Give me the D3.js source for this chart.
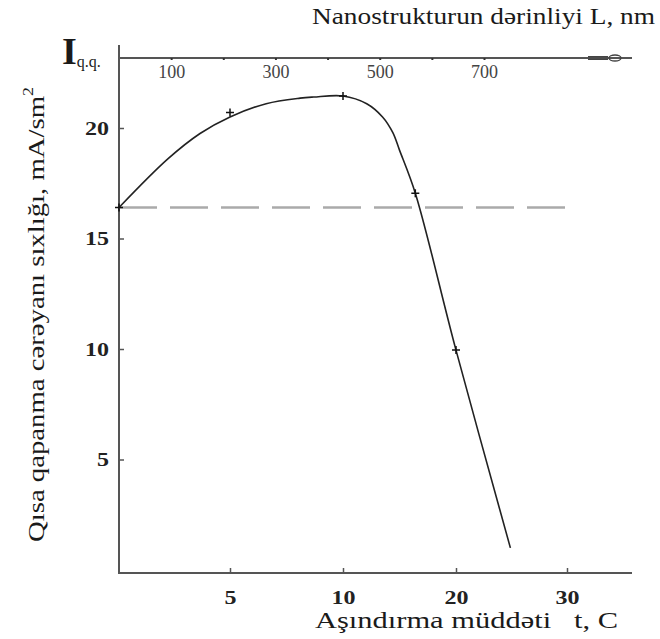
<!DOCTYPE html>
<html lang="az">
<head>
    <meta charset="UTF-8">
    <title>Iqq</title>
    <script src="https://d3js.org/d3.v7.min.js"></script>
    <style>
        body { margin: 0; background: #fff; }
        text { font-family: "Liberation Serif", "Times New Roman", serif; fill: #1a1a1a; }
    </style>
</head>
<body>
<div id="figure" style="width: 660px; height: 639px"></div>
<script>
    // etching time t (uneven axis: 5, 10, 20, 30) vs short-circuit current
    let tTicks = [5, 10, 20, 30];
    let iTicks = [5, 10, 15, 20];
    let depthTicks = [100, 200, 300, 400, 500, 600, 700];
    let depthLabels = [100, 300, 500, 700];

    // curve
    let curveT = [0, 2.2, 3.65, 5, 6.6, 8.1, 8.7, 10, 12.1, 13.5, 14.4, 15.0, 16.4, 20, 24.9];
    let curveI = [16.4, 18.6, 19.75, 20.5, 21.1, 21.35, 21.4, 21.45, 21.1, 20.5, 19.8, 19.0, 17.05, 9.95, 1.0];

    // measured points (+ marks)
    let markT = [0, 5, 10, 16.4, 20];
    let markI = [16.4, 20.7, 21.45, 17.05, 9.95];

    let refLevel = 16.4; // dashed line = starting value

    let w = 660, h = 639;
    let svg = d3.select("#figure").append("svg")
        .attr("width", w)
        .attr("height", h);

    // x axis is not linear in the original, so a piecewise scale
    let x = d3.scaleLinear()
        .domain([0, 5, 10, 20, 30])
        .range([119, 230, 343, 456, 567]);
    let y = d3.scaleLinear()
        .domain([0, 20])
        .range([570, 128]);
    let depth = d3.scaleLinear()
        .domain([0, 700])
        .range([119, 484]);

    let axisColor = "#555";

    // axis lines
    svg.append("line")
        .attr("x1", 119).attr("y1", 45)
        .attr("x2", 119).attr("y2", 573)
        .style("stroke", axisColor).style("stroke-width", 2);
    svg.append("line")
        .attr("x1", 118).attr("y1", 573)
        .attr("x2", 632).attr("y2", 573)
        .style("stroke", axisColor).style("stroke-width", 2);
    svg.append("line")
        .attr("x1", 119).attr("y1", 58)
        .attr("x2", 632).attr("y2", 58)
        .style("stroke", axisColor).style("stroke-width", 2);

    // arrow end of the top axis
    svg.append("path")
        .attr("d", "M588,58 L608,58 M588,56.5 L608,56.5 M588,59.5 L608,59.5")
        .style("stroke", "#444").style("stroke-width", 1.2);
    svg.append("ellipse")
        .attr("cx", 615).attr("cy", 58).attr("rx", 6).attr("ry", 3)
        .style("fill", "none").style("stroke", "#444").style("stroke-width", 1.3);

    // the picture is stretched sideways a bit, so tick text gets a fixed width
    function styleTicks(g, size, bold, perChar) {
        g.selectAll(".tick text")
            .style("font-family", "Liberation Serif, serif")
            .style("font-size", size + "px")
            .style("font-weight", bold ? "bold" : "normal")
            .style("fill", bold ? "#222" : "#444")
            .attr("lengthAdjust", "spacingAndGlyphs")
            .attr("textLength", function () {
                let s = d3.select(this).text();
                return s.length ? s.length * perChar : null;
            });
    }

    // left axis
    let gy = svg.append("g")
        .attr("transform", "translate(119,0)")
        .call(d3.axisLeft(y).tickValues(iTicks).tickSize(-5).tickPadding(10));
    gy.select(".domain").remove();
    gy.selectAll(".tick line").style("stroke", axisColor).style("stroke-width", 1.5);
    styleTicks(gy, 19, true, 12);

    // bottom axis
    let gx = svg.append("g")
        .attr("transform", "translate(0,573)")
        .call(d3.axisBottom(x).tickValues(tTicks).tickSize(-5).tickPadding(18));
    gx.select(".domain").remove();
    gx.selectAll(".tick line").style("stroke", axisColor).style("stroke-width", 1.5);
    styleTicks(gx, 19, true, 12);

    // top depth axis
    let gt = svg.append("g")
        .attr("transform", "translate(0,58)")
        .call(d3.axisBottom(depth).tickValues(depthTicks).tickSize(2).tickPadding(5)
            .tickFormat(d => depthLabels.includes(d) ? d : ""));
    gt.select(".domain").remove();
    gt.selectAll(".tick line").style("stroke", "#333").style("stroke-width", 2);
    styleTicks(gt, 18, false, 9);

    // dashed reference line
    svg.append("line")
        .attr("x1", x(0)).attr("x2", 565)
        .attr("y1", y(refLevel)).attr("y2", y(refLevel))
        .style("stroke", "#aaa")
        .style("stroke-width", 2.5)
        .style("stroke-dasharray", "38,13");

    // curve
    let pts = curveT.map((t, i) => [t, curveI[i]]);
    let line = d3.line()
        .x(d => x(d[0]))
        .y(d => y(d[1]))
        .curve(d3.curveCatmullRom.alpha(0.5));
    svg.append("path")
        .attr("d", line(pts))
        .style("fill", "none")
        .style("stroke", "#222")
        .style("stroke-width", 1.6);

    // + marks
    markT.forEach((t, i) => {
        let cx = x(t), cy = y(markI[i]);
        svg.append("path")
            .attr("d", `M${cx - 4},${cy} L${cx + 4},${cy} M${cx},${cy - 4} L${cx},${cy + 4}`)
            .style("stroke", "#111")
            .style("stroke-width", 1.5);
    });

    // texts
    svg.append("text")
        .attr("x", 312).attr("y", 24)
        .attr("textLength", 343)
        .attr("lengthAdjust", "spacingAndGlyphs")
        .style("font-size", "24px")
        .text("Nanostrukturun dərinliyi L, nm");

    let iq = svg.append("text")
        .attr("x", 62).attr("y", 64);
    iq.append("tspan")
        .style("font-size", "38px")
        .style("font-weight", "bold")
        .text("I");
    iq.append("tspan")
        .attr("dy", 3)
        .style("font-size", "16px")
        .text("q.q.");

    let yl = svg.append("text")
        .attr("transform", "translate(44,542) rotate(-90)")
        .attr("textLength", 455)
        .attr("lengthAdjust", "spacingAndGlyphs")
        .style("font-size", "24px");
    yl.append("tspan").text("Qısa qapanma cərəyanı sıxlığı, mA/sm");
    yl.append("tspan").attr("dy", -11).style("font-size", "15px").text("2");

    svg.append("text")
        .attr("x", 315).attr("y", 628)
        .attr("textLength", 303)
        .attr("lengthAdjust", "spacingAndGlyphs")
        .style("font-size", "24px")
        .attr("xml:space", "preserve")
        .text("Aşındırma müddəti   t, C");
</script>
</body>
</html>
